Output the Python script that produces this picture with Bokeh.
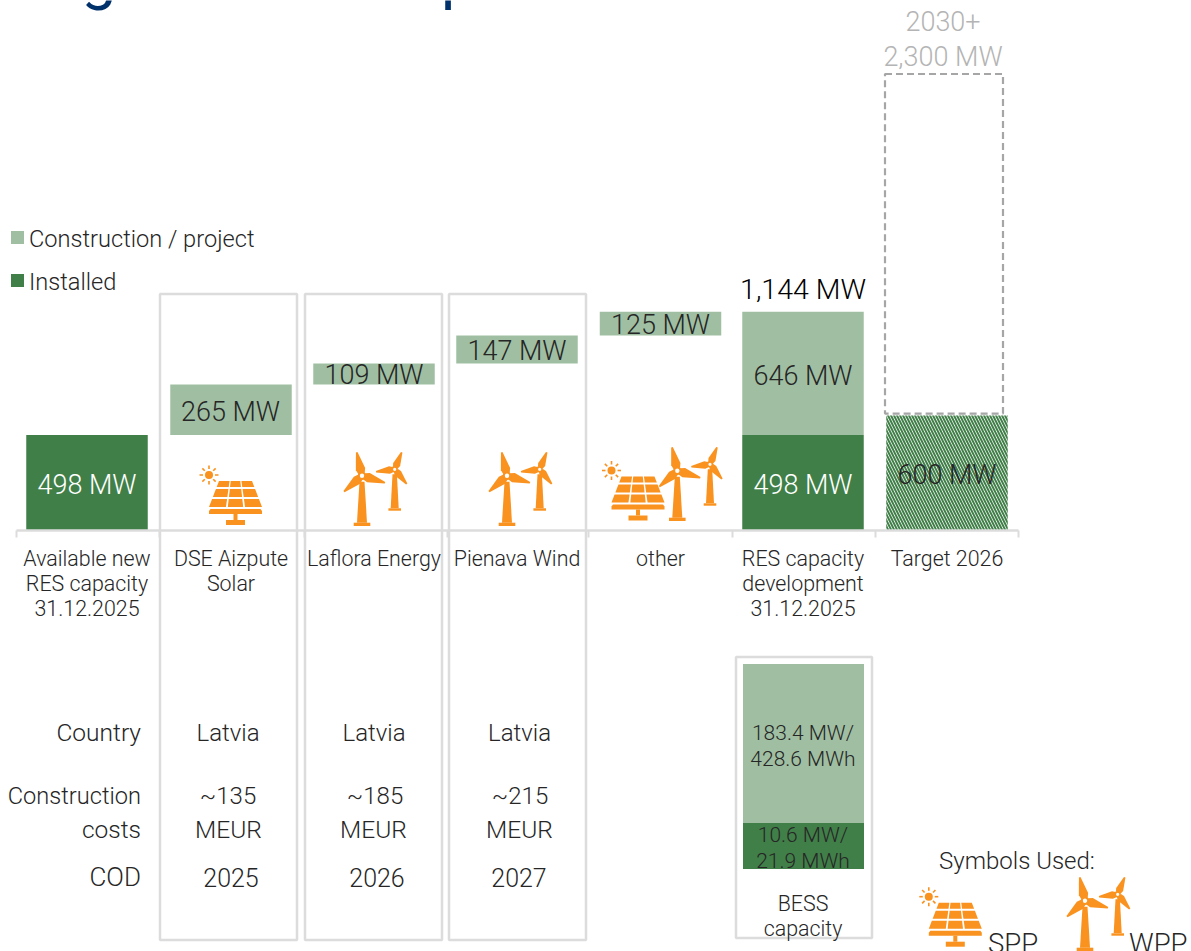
from bokeh.plotting import figure
from bokeh.models import Range1d, LinearAxis, FixedTicker
from bokeh.core.properties import value
from bokeh.embed import file_html
from bokeh.resources import INLINE

# ---------- data ----------
categories = ["Available new\nRES capacity\n31.12.2025", "DSE Aizpute\nSolar", "Laflora Energy", "Pienava Wind",
              "other", "RES capacity\ndevelopment\n31.12.2025", "Target 2026"]
installed_mw = [498, 0, 0, 0, 0, 498, 0]
project_mw = [0, 265, 109, 147, 125, 646, 0]
project_base_mw = [0, 498, 763, 872, 1019, 498, 0]
target_hatched_mw = 600
target_dashed_top_mw = 2390
value_labels = ["498 MW", "265 MW", "109 MW", "147 MW", "125 MW", "646 MW", "498 MW", "600 MW"]
total_label = "1,144 MW"
target_labels = ["2030+", "2,300 MW"]
legend_labels = ["Construction / project", "Installed"]
row_labels = ["Country", "Construction", "costs", "COD"]
countries = ["Latvia", "Latvia", "Latvia"]
costs = ["~135", "~185", "~215"]
cost_unit = ["MEUR", "MEUR", "MEUR"]
cods = ["2025", "2026", "2027"]
bess_labels = ["183.4 MW/\n428.6 MWh", "10.6 MW/\n21.9 MWh"]

GREEN_D = "#417f49"
GREEN_L = "#a0bfa2"
ORANGE = "#f9921f"
GRID = "#dcdcdc"
INK = "#262626"
FONT = value("Roboto Light")

W, H = 1191, 951
BASE_PX, MW_PX = 529.5, 0.1908

p = figure(width=W, height=H, output_backend="svg", toolbar_location=None,
           x_range=Range1d(0.5, W + 0.5),
           y_range=Range1d((BASE_PX - H) / MW_PX, BASE_PX / MW_PX),
           x_axis_location=None, y_axis_location=None, min_border=0,
           outline_line_color=None, background_fill_color="white")
p.grid.visible = False
p.extra_y_ranges = {"px": Range1d(H + 0.5, 0.5)}

def T(x, y, s, size=23, color=INK, align="center", baseline="middle", font=FONT, **kw):
    p.text([x], [y + 0.5], text=[s], text_font=font, text_font_size=f"{size}px", text_color=color,
           text_align=align, text_baseline=baseline, y_range_name="px", **kw)

# category boxes
p.quad(left=[160, 305, 449, 736], right=[297, 442, 586, 872], top=[294, 294, 294, 657], bottom=[940, 940, 940, 938],
       fill_color=None, line_color=GRID, line_width=2.5, y_range_name="px")

# bars on the MW scale
centers = [87, 231, 374, 517, 660.5, 803, 947]
bw = 121.5
for c, v in zip(centers, installed_mw):
    if v:
        p.vbar(x=c, width=bw, bottom=0, top=v, fill_color=GREEN_D, line_color=None)
for c, v, b in zip(centers, project_mw, project_base_mw):
    if v:
        p.vbar(x=c, width=bw, bottom=b, top=b + v, fill_color=GREEN_L, line_color=None)

# target
p.vbar(x=centers[6], width=bw, bottom=0, top=target_hatched_mw, fill_color=None, line_color=None,
       hatch_pattern="left_diagonal_line", hatch_color=GREEN_D, hatch_scale=6, hatch_weight=2)
p.quad(left=[885], right=[1003], bottom=[target_hatched_mw + 10], top=[target_dashed_top_mw], fill_color=None,
       line_color="#a6a6a6", line_width=2.2, line_dash="7 4")

# BESS bars
p.quad(left=[743, 743], right=[864, 864], top=[664, 823], bottom=[823, 869],
       fill_color=[GREEN_L, GREEN_D], line_color=None, y_range_name="px")

# axis
ax = LinearAxis(fixed_location=0, ticker=FixedTicker(ticks=[16, 159, 304, 447, 588, 732, 875, 1018]),
                bounds=(16, 1018), axis_line_color=GRID, axis_line_width=2.5, major_tick_line_color=GRID,
                major_tick_line_width=2, major_tick_in=0, major_tick_out=7, minor_tick_line_color=None,
                major_label_text_font_size="0px", major_label_text_color=None)
p.add_layout(ax, "below")

# value labels
lab_y = [484, 411, 374, 350, 324, 375, 484, 474]
lab_x = [87, 230.5, 374, 517, 660.5, 803, 803, 947]
for i, (x, y, s) in enumerate(zip(lab_x, lab_y, value_labels)):
    T(x, y, s, size=27, color="white" if i in (0, 6) else INK)
T(803, 289, total_label, size=28.5, color="#000000")
T(943, 20, target_labels[0], size=27, color="#b4b4b4")
T(943, 56, target_labels[1], size=27, color="#b4b4b4")

# legend
p.quad(left=[11, 11], right=[24, 24], top=[231, 274], bottom=[244, 287], fill_color=[GREEN_L, GREEN_D],
       line_color=None, y_range_name="px")
T(29, 238, legend_labels[0], size=23.6, align="left")
T(29, 281, legend_labels[1], size=23.6, align="left")

# category labels
for c, s in zip(centers, categories):
    for j, line in enumerate(s.split("\n")):
        T(c, 557.5 + j * 25, line, size=21.4)

# table
T(141, 732, row_labels[0], size=24.5, align="right")
T(141, 795.5, row_labels[1], size=23.6, align="right")
T(141, 828.5, row_labels[2], size=24.5, align="right")
T(141, 876.5, row_labels[3], size=26, align="right")
for xa, xb, xd, xe, a, b, d, e in zip([228, 374, 519.5], [228, 375, 520], [228.5, 373.5, 519.5], [231, 377, 519],
                                      countries, costs, cost_unit, cods):
    T(xa, 732, a, size=24)
    T(xb, 795.5, b, size=24)
    T(xd, 828.5, d, size=24.5)
    T(xe, 876.5, e, size=25)
for y0, s in zip([745, 847], bess_labels):
    for j, line in enumerate(s.split("\n")):
        T(803, y0 - 13 + j * 26, line, size=21, color=INK)
T(803, 903, "BESS", size=21.4)
T(803, 928, "capacity", size=21.4)
T(1017, 860, "Symbols Used:", size=24)
T(988, 943, "SPP", size=27.5, align="left", baseline="alphabetic")
T(1129, 943, "WPP", size=27.5, align="left", baseline="alphabetic")

# clipped title descenders
TITLE_FONT = value("Roboto")
T(81.5, -24, "g", size=62, color="#00316a", align="left", baseline="alphabetic", font=TITLE_FONT)
T(441, -24, "p", size=62, color="#00316a", align="left", baseline="alphabetic", font=TITLE_FONT)

# ---------- icons ----------
def poly(xs, ys, color=ORANGE):
    p.patch(xs, ys, fill_color=color, line_color=None, y_range_name="px")

def solar(dx=0.0, dy=0.0):
    cx, by = 235.5 + dx, 525 + dy
    def hw(y):
        return 16.5 + (44 - y) * (10 / 26)
    rows = [(44, 38), (36, 28), (26, 18)]
    cols = [(-1, -0.36), (-0.29, 0.29), (0.36, 1)]
    for yt, yb in rows:
        for a, b in cols:
            xs = [cx + a * hw(yt), cx + b * hw(yt), cx + b * hw(yb), cx + a * hw(yb)]
            ys = [by - yt, by - yt, by - yb, by - yb]
            poly(xs, ys)
    poly([cx - 25, cx + 25, cx + 26.5, cx + 26.5, cx - 26.5, cx - 26.5],
         [by - 16, by - 16, by - 14, by - 11, by - 11, by - 14])
    poly([cx - 2, cx + 2, cx + 2, cx - 2], [by - 11, by - 11, by - 5, by - 5])
    poly([cx - 9.5, cx + 9.5, cx + 9.5, cx - 9.5], [by - 5, by - 5, by, by])
    sx, sy = 209 + dx, 475 + dy
    p.circle([sx], [sy], radius=4, fill_color=ORANGE, line_color=None, y_range_name="px")
    for ax_, ay in [(1, 0), (-1, 0), (0, 1), (0, -1), (.7, .7), (-.7, .7), (.7, -.7), (-.7, -.7)]:
        p.line([sx + 6 * ax_, sx + 9.5 * ax_], [sy + 6 * ay, sy + 9.5 * ay], line_color=ORANGE, line_width=1.6,
               y_range_name="px")

def blade(hx, hy, tx, ty, w):
    dx_, dy_ = tx - hx, ty - hy
    L = (dx_ ** 2 + dy_ ** 2) ** 0.5
    nx, ny = -dy_ / L, dx_ / L
    xs = [hx + dx_ * .1 - nx * w * .35, hx + dx_ * .28 - nx * w * .5, tx - nx * .8, tx + nx * .8,
          hx + dx_ * .28 + nx * w * .5, hx + dx_ * .1 + nx * w * .35]
    ys = [hy + dy_ * .1 - ny * w * .35, hy + dy_ * .28 - ny * w * .5, ty - ny * .8, ty + ny * .8,
          hy + dy_ * .28 + ny * w * .5, hy + dy_ * .1 + ny * w * .35]
    poly(xs, ys)

def wind(dx=0.0, dy=0.0):
    hx, hy = 362 + dx, 475.7 + dy
    poly([hx - 2.5, hx + 2.5, hx + 5, hx - 5], [hy + 6, hy + 6, hy + 47, hy + 47])
    poly([hx - 8.3, hx + 8.3, hx + 8.3, hx - 8.3], [hy + 47, hy + 47, hy + 50.3, hy + 50.3])
    blade(hx, hy, 356.7 + dx, 452.3 + dy, 9.5)
    blade(hx, hy, 385 + dx, 482.7 + dy, 9.5)
    blade(hx, hy, 344 + dx, 491.7 + dy, 9.5)
    p.circle([hx], [hy], radius=3.2, fill_color="white", line_color=ORANGE, line_width=2, y_range_name="px")
    hx, hy = 394.7 + dx, 469.3 + dy
    poly([hx - 2.2, hx + 2.2, hx + 4, hx - 4], [hy + 5, hy + 5, hy + 39, hy + 39])
    poly([hx - 6.3, hx + 6.3, hx + 6.3, hx - 6.3], [hy + 39, hy + 39, hy + 41.4, hy + 41.4])
    blade(hx, hy, 401.7 + dx, 452.3 + dy, 7.5)
    blade(hx, hy, 376 + dx, 471.7 + dy, 7.5)
    blade(hx, hy, 406.7 + dx, 484 + dy, 7.5)
    p.circle([hx], [hy], radius=2.4, fill_color="white", line_color=ORANGE, line_width=1.6, y_range_name="px")

solar()
wind()
wind(145, 0)
solar(402.5, -4.5)
wind(315.3, -5)
solar(719.8, 421.7)
wind(723, 425)

open("out.html", "w").write(file_html(p, INLINE))
